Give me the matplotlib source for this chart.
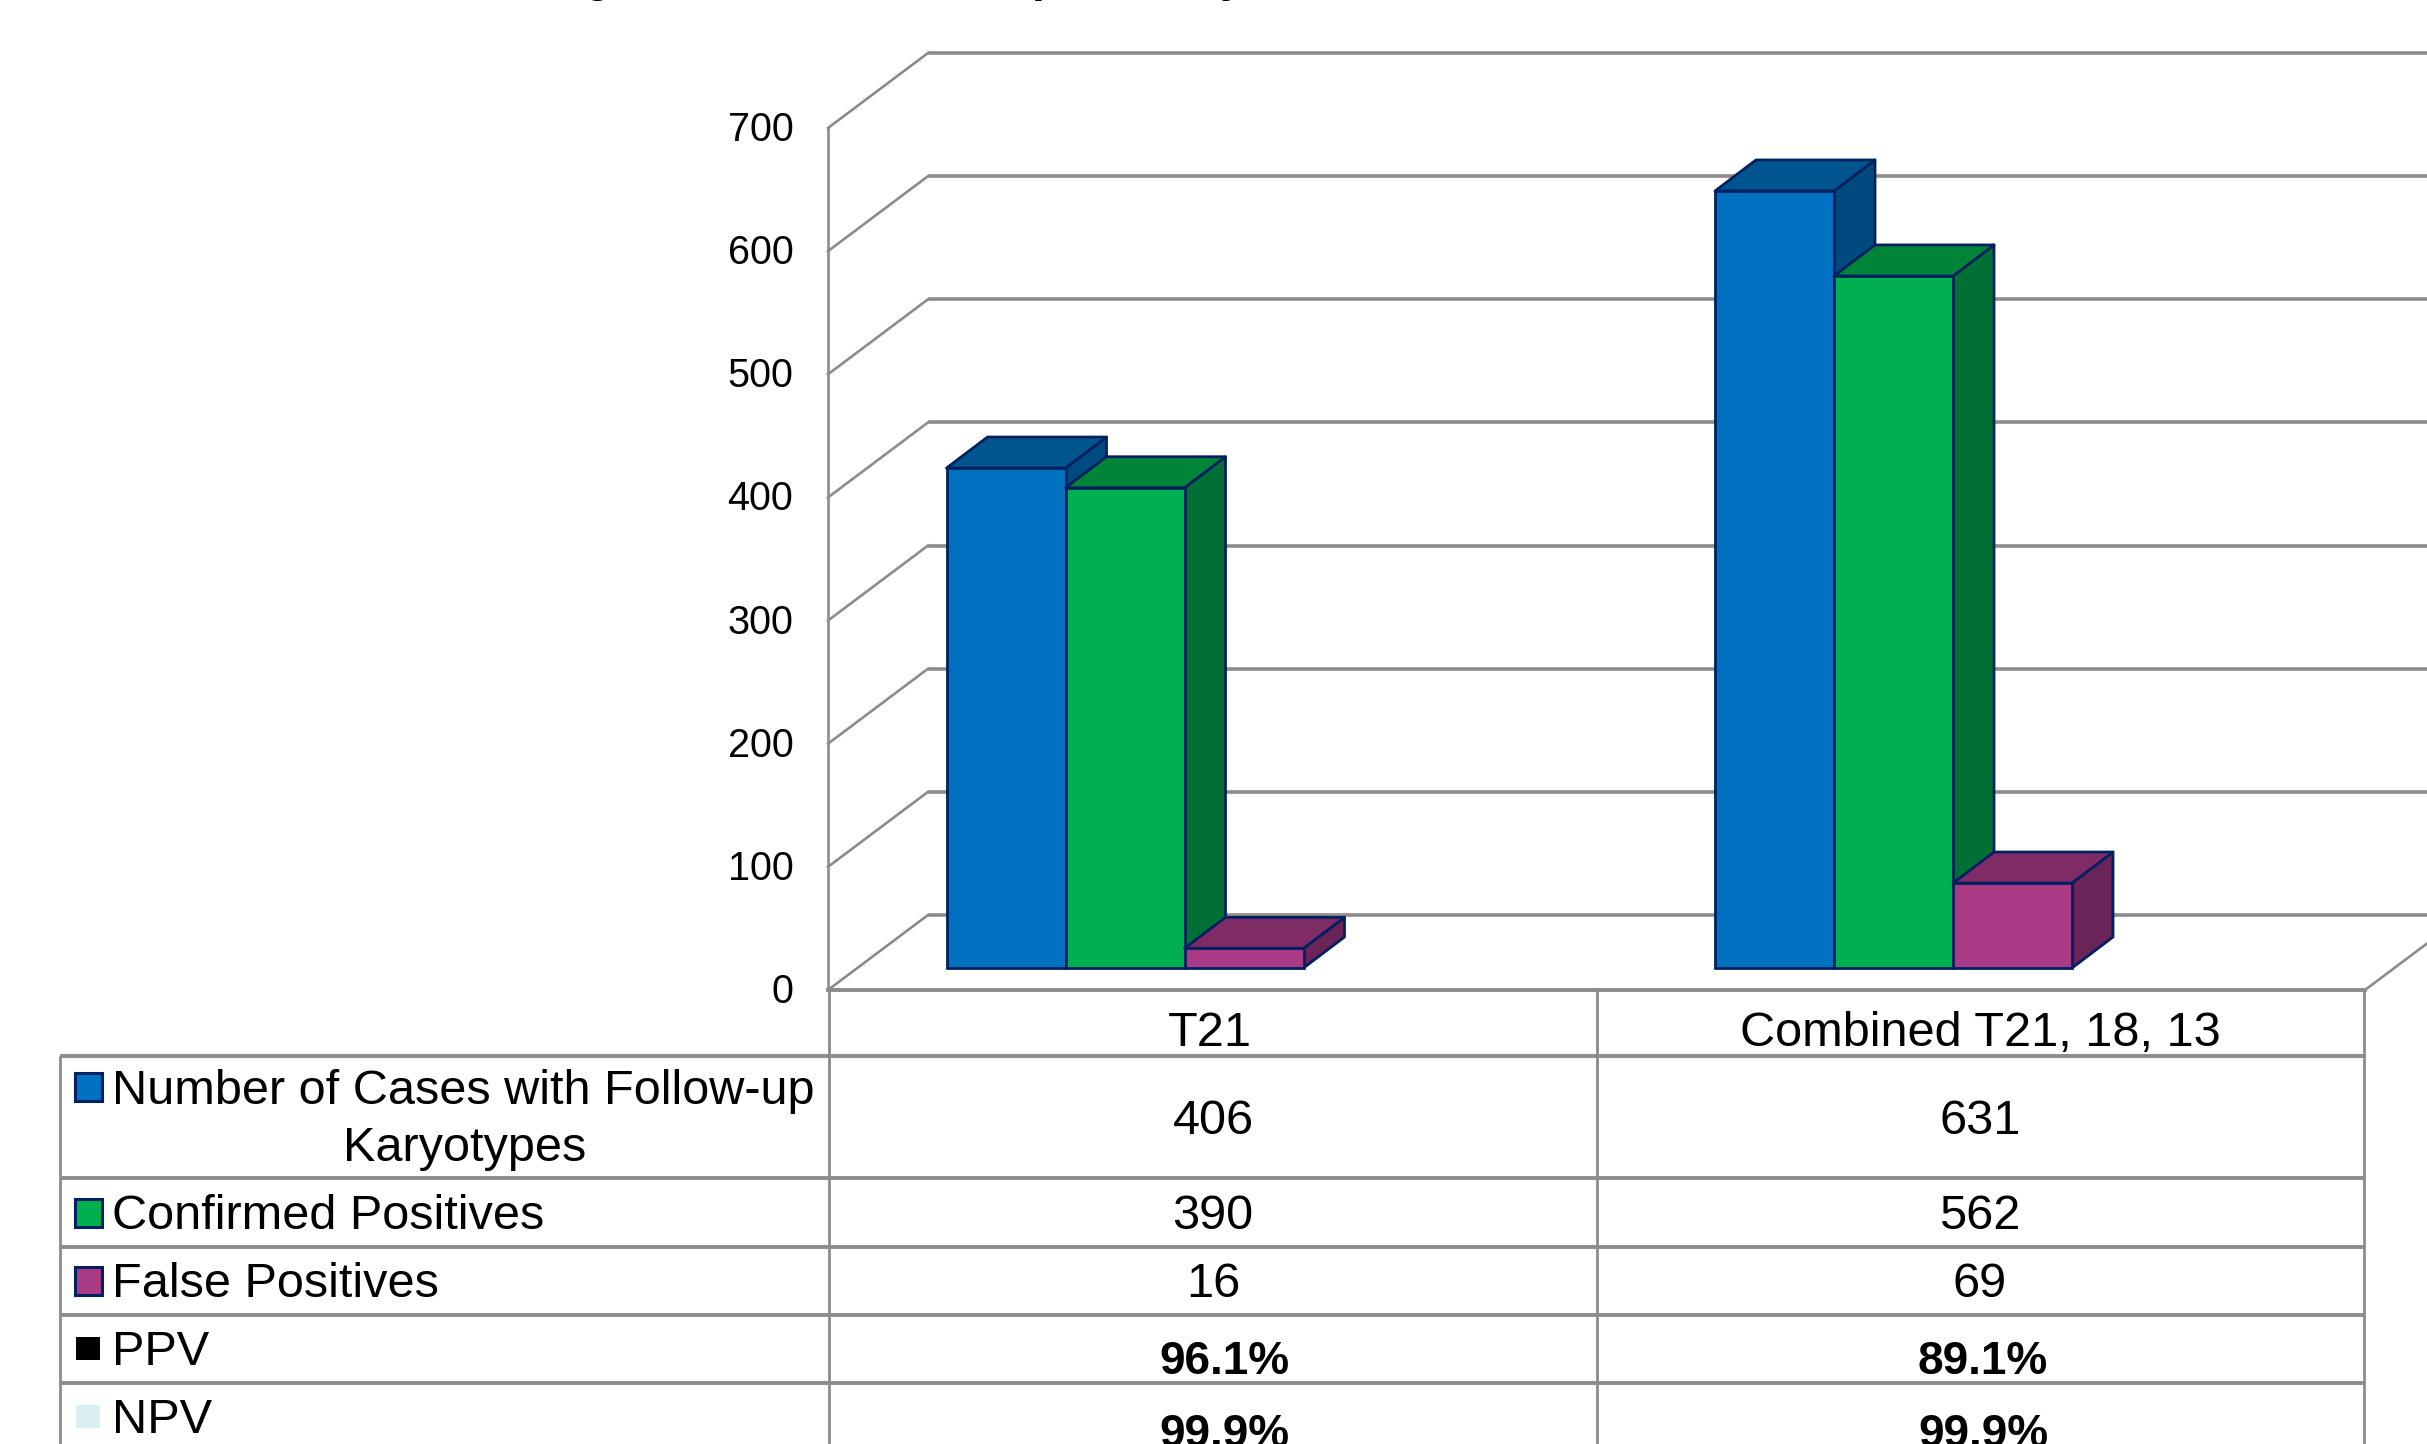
import matplotlib
matplotlib.use("Agg")
import matplotlib.pyplot as plt
from matplotlib.patches import Polygon, Rectangle
from matplotlib.transforms import Affine2D

plt.rcParams['font.family'] = ['Liberation Sans', 'DejaVu Sans']

W, H = 2427, 1444

categories = ['T21', 'Combined T21, 18, 13']
cases = [406, 631]
confirmed = [390, 562]
false_pos = [16, 69]
ppv = ['96.1%', '89.1%']
npv = ['99.9%', '99.9%']
y_ticks = [0, 100, 200, 300, 400, 500, 600, 700]

# front, side, top colours for each bar series
series = [
    (cases, '#0070C0', '#004A80', '#00558F'),
    (confirmed, '#00B050', '#007034', '#008538'),
    (false_pos, '#A83A86', '#6A2457', '#7F2C66'),
]
OUTLINE = '#002060'
GRID = '#8C8C8C'

fig = plt.figure(figsize=(W / 100, H / 100), dpi=100, facecolor='white')

# chart axes sit on the front plane of the fake 3D box
AX_L, AX_R, AX_TOP, AX_BOT = 828, 2365, 128, 990
ax = fig.add_axes([AX_L / W, 1 - AX_BOT / H, (AX_R - AX_L) / W, (AX_BOT - AX_TOP) / H])
ax.set_xlim(0, 2)
ax.set_ylim(0, 700)
ax.patch.set_visible(False)
for s in ax.spines.values():
    s.set_visible(False)
ax.set_xticks([])
ax.set_yticks(y_ticks)
ax.tick_params(axis='y', length=0, pad=25, labelsize=28.5)
# nudge the value labels up a touch
for lab in ax.get_yticklabels():
    lab.set_transform(lab.get_transform() + Affine2D().translate(0, 2))

px_x = 2 / (AX_R - AX_L)
px_y = 700 / (AX_BOT - AX_TOP)

# box depth and bar depth, converted to data units
wall_dx, wall_dy = 100 * px_x, 75 * px_y
bar_dx, bar_dy = 41 * px_x, 31 * px_y
bar_base = 22 * px_y
bar_w = 119 * px_x
group_off = 118.5 * px_x

# walls and floor
for v in y_ticks:
    ax.plot([0, wall_dx], [v, v + wall_dy], color=GRID, lw=1.9, clip_on=False, zorder=1)
    ax.plot([wall_dx, 2 + wall_dx], [v + wall_dy, v + wall_dy], color=GRID, lw=2.6,
            clip_on=False, zorder=1, solid_capstyle='butt')
ax.plot([0, 0], [0, 700], color=GRID, lw=1.9, clip_on=False, zorder=1)
ax.plot([0, 2], [0, 0], color=GRID, lw=2.8, clip_on=False, zorder=1)
ax.plot([2, 2 + wall_dx], [0, wall_dy], color=GRID, lw=1.9, clip_on=False, zorder=1)

# bars: side and top faces first, then the front through ax.bar
z = 3
for i, (vals, front, side, top) in enumerate(series):
    for g, v in enumerate(vals):
        x0 = g + group_off + i * bar_w
        x1 = x0 + bar_w
        y0 = bar_base
        y1 = bar_base + v
        ax.add_patch(Polygon([(x1, y0), (x1 + bar_dx, y0 + bar_dy), (x1 + bar_dx, y1 + bar_dy), (x1, y1)],
                             closed=True, fc=side, ec=OUTLINE, lw=2.0, joinstyle='round',
                             clip_on=False, zorder=z))
        ax.add_patch(Polygon([(x0, y1), (x1, y1), (x1 + bar_dx, y1 + bar_dy), (x0 + bar_dx, y1 + bar_dy)],
                             closed=True, fc=top, ec=OUTLINE, lw=2.0, joinstyle='round',
                             clip_on=False, zorder=z))
        ax.bar(x0, v, width=bar_w, bottom=bar_base, align='edge', color=front,
               edgecolor=OUTLINE, linewidth=2.0, clip_on=False, zorder=z + 0.5)
    z += 1

# data table underneath, laid out in pixels
tb = fig.add_axes([0, 0, 1, 1])
tb.set_xlim(0, W)
tb.set_ylim(H, 0)
tb.axis('off')

TB_L, TB_C0, TB_C1, TB_R = 60, 829, 1597, 2364
row_lines = [1056, 1178, 1247, 1315, 1383]
for y in row_lines:
    tb.plot([TB_L, TB_R], [y, y], color=GRID, lw=2.8, solid_capstyle='butt')
for x, y0 in [(TB_L, 1056), (TB_C0, 990), (TB_C1, 988), (TB_R, 990)]:
    tb.plot([x, x], [y0, H], color=GRID, lw=2.0, solid_capstyle='butt')

COL_X = [1213, 1980]
BOLD_X = [1224, 1983]
FS = 35
for x, c in zip([1210, 1980], categories):
    tb.text(x, 1046, c, ha='center', va='baseline', fontsize=FS)
for vals, base in [(cases, 1134), (confirmed, 1229), (false_pos, 1297)]:
    for x, v in zip(COL_X, vals):
        tb.text(x, base, str(v), ha='center', va='baseline', fontsize=FS)
for vals, base in [(ppv, 1374), (npv, 1447)]:
    for x, v in zip(BOLD_X, vals):
        tb.text(x, base, v, ha='center', va='baseline', fontsize=33, fontweight='bold')

# legend keys and row names
LBL_X = 112
tb.text(LBL_X, 1104, 'Number of Cases with Follow-up', ha='left', va='baseline', fontsize=FS)
tb.text(465, 1161, 'Karyotypes', ha='center', va='baseline', fontsize=FS)
tb.text(LBL_X, 1229, 'Confirmed Positives', ha='left', va='baseline', fontsize=FS)
tb.text(LBL_X, 1297, 'False Positives', ha='left', va='baseline', fontsize=FS)
tb.text(LBL_X, 1365, 'PPV', ha='left', va='baseline', fontsize=FS)
tb.text(LBL_X, 1433, 'NPV', ha='left', va='baseline', fontsize=FS)

for y, (_, front, _, _) in zip([1073, 1199, 1267], series):
    tb.add_patch(Rectangle((75, y), 27, 28, fc=front, ec=OUTLINE, lw=2.2))
tb.add_patch(Rectangle((76, 1337), 24, 23, fc='black', ec='none'))
tb.add_patch(Rectangle((76, 1405), 24, 23, fc='#DAEEF3', ec='none'))

# descenders of the heading running off the top edge
for x, ch in [(597, 'g'), (1046, 'p'), (1232, 'y')]:
    tb.text(x, -9, ch, ha='center', va='baseline', fontsize=33, fontweight='bold', clip_on=False)

fig.savefig('out.png', dpi=100)
